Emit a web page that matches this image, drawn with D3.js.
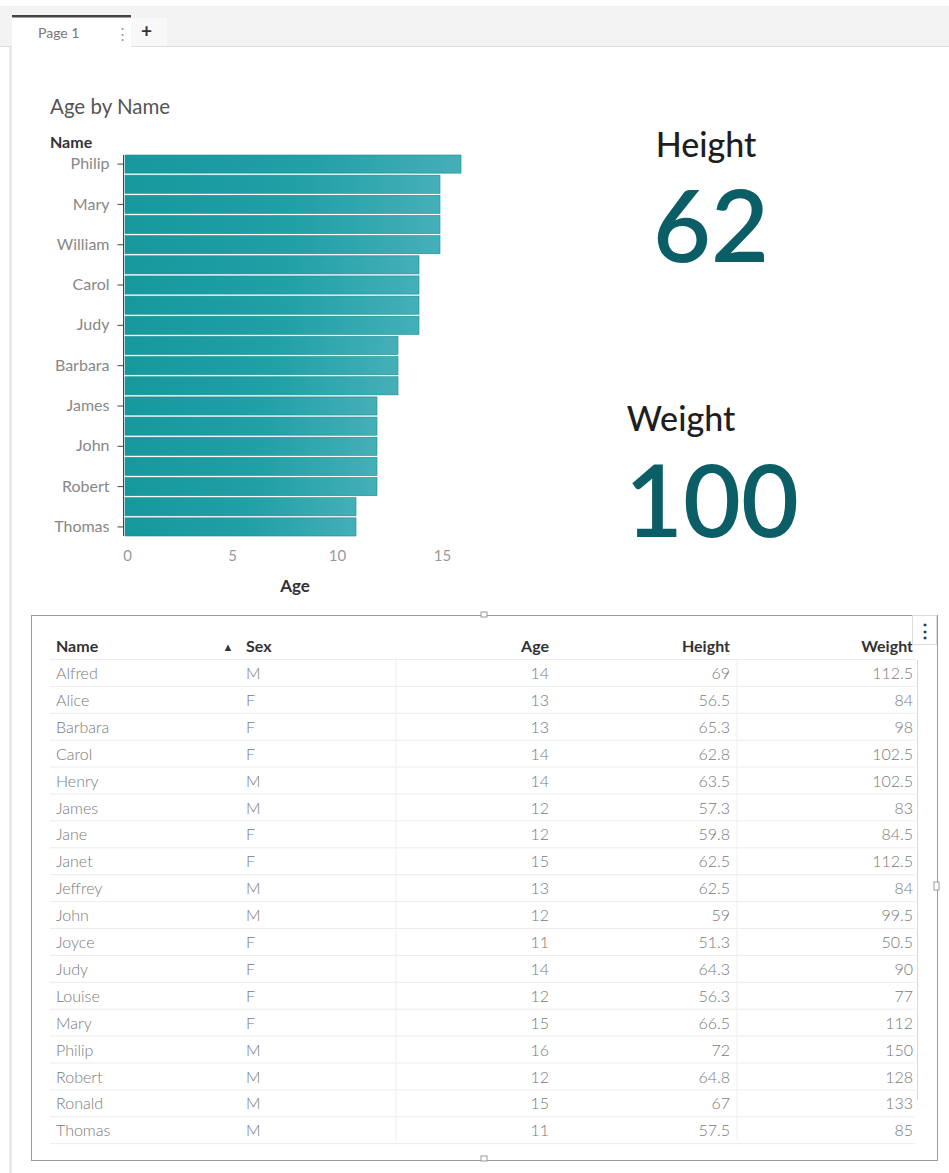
<!DOCTYPE html>
<html>
<head>
<meta charset="utf-8">
<script src="https://cdn.jsdelivr.net/npm/d3@7"></script>
<style>
  body { margin: 0; background: #fff; }
  svg text { font-family: Lato, "Open Sans", sans-serif; }
</style>
</head>
<body>
<div id="report"></div>
<script>
// sashelp.class
var names   = ["Alfred","Alice","Barbara","Carol","Henry","James","Jane","Janet","Jeffrey","John","Joyce","Judy","Louise","Mary","Philip","Robert","Ronald","Thomas","William"],
    sexes   = ["M","F","F","F","M","M","F","F","M","M","F","F","F","F","M","M","M","M","M"],
    ages    = [14,13,13,14,14,12,12,15,13,12,11,14,12,15,16,12,15,11,15],
    heights = [69,56.5,65.3,62.8,63.5,57.3,59.8,62.5,62.5,59,51.3,64.3,56.3,66.5,72,64.8,67,57.5,66.5],
    weights = [112.5,84,98,102.5,102.5,83,84.5,112.5,84,99.5,50.5,90,77,112,150,128,133,85,112];

var ageTicks = [0, 5, 10, 15],
    tableCols = ["Name", "Sex", "Age", "Height", "Weight"],
    visibleRows = 18;

var W = 949, H = 1173;

var rows = names.map(function(n, i) {
  return { name: n, sex: sexes[i], age: ages[i], height: heights[i], weight: weights[i] };
});

var svg = d3.select("#report").append("svg")
    .attr("width", W)
    .attr("height", H);

var defs = svg.append("defs");
var grad = defs.append("linearGradient").attr("id", "barGrad");
grad.append("stop").attr("offset", "0%").attr("stop-color", "#16989d");
grad.append("stop").attr("offset", "55%").attr("stop-color", "#21a0a6");
grad.append("stop").attr("offset", "100%").attr("stop-color", "#45afb7");

// ---- page tabs ----
svg.append("rect").attr("x", 0).attr("y", 6).attr("width", W).attr("height", 40).attr("fill", "#f3f3f3");
svg.append("line").attr("x1", 0).attr("x2", W).attr("y1", 46.5).attr("y2", 46.5).attr("stroke", "#dcdcdc");
svg.append("rect").attr("x", 12).attr("y", 16).attr("width", 119).attr("height", 31).attr("fill", "#fff");
svg.append("rect").attr("x", 131).attr("y", 18).attr("width", 36).attr("height", 28).attr("fill", "#f8f8f8");
svg.append("rect").attr("x", 12).attr("y", 15).attr("width", 119).attr("height", 2.5).attr("fill", "#444");
svg.append("text").attr("x", 38).attr("y", 38).attr("font-size", 14).attr("fill", "#777").text("Page 1");
svg.append("text").attr("x", 115).attr("y", 39).attr("font-size", 15).attr("fill", "#999").text("⋮");
svg.append("text").attr("x", 141).attr("y", 38).attr("font-size", 19).attr("font-weight", 700).attr("fill", "#333").text("+");
svg.append("line").attr("x1", 10.5).attr("x2", 10.5).attr("y1", 46).attr("y2", H).attr("stroke", "#e2e2e2").attr("stroke-width", 2);

// ---- bar chart ----
var sorted = rows.slice().sort(function(a, b) {
  return d3.descending(a.age, b.age) || d3.ascending(a.name, b.name);
});

var x = d3.scaleLinear().domain([0, 16]).range([125, 461]);
var y = d3.scaleBand()
    .domain(sorted.map(function(d) { return d.name; }))
    .range([155, 536])
    .paddingInner(0.1);

svg.append("text").attr("x", 50).attr("y", 114).attr("font-size", 20.5).attr("fill", "#555").text("Age by Name");
svg.append("text").attr("x", 50).attr("y", 148).attr("font-size", 16).attr("font-weight", 700).attr("fill", "#333").text("Name");

svg.selectAll(".bar")
  .data(sorted)
  .enter().append("rect")
    .attr("class", "bar")
    .attr("x", x(0))
    .attr("y", function(d) { return y(d.name); })
    .attr("width", function(d) { return x(d.age) - x(0); })
    .attr("height", y.bandwidth())
    .attr("fill", "url(#barGrad)")
    .attr("stroke", "#148e93")
    .attr("stroke-width", 0.6);

var labelled = sorted.filter(function(d, i) { return i % 2 === 0; }).map(function(d) { return d.name; });
var yAxis = d3.axisLeft(y).tickValues(labelled).tickSize(6).tickPadding(8);
var yg = svg.append("g")
    .attr("transform", "translate(" + (x(0) - 1.5) + ",0)")
    .call(yAxis);
yg.select(".domain").attr("stroke", "#444").attr("d", "M0," + y.range()[0] + "V" + y.range()[1]);
yg.selectAll(".tick line").attr("stroke", "#444");
yg.selectAll(".tick text").attr("font-size", 16).attr("fill", "#888").attr("font-family", "Lato, sans-serif");

var xAxis = d3.axisBottom(x).tickValues(ageTicks).tickSize(0).tickPadding(10);
var xg = svg.append("g")
    .attr("transform", "translate(2,540)")
    .call(xAxis);
xg.select(".domain").remove();
xg.selectAll(".tick text").attr("font-size", 15).attr("fill", "#999").attr("font-family", "Lato, sans-serif");

svg.append("text").attr("x", 295).attr("y", 592).attr("text-anchor", "middle")
  .attr("font-size", 17).attr("font-weight", 700).attr("fill", "#333").text("Age");

// ---- KPI tiles ----
var kpis = [
  { label: "Height", value: d3.mean(heights), lx: 706, ly: 157, vx: 711, vy: 262 },
  { label: "Weight", value: d3.mean(weights), lx: 681, ly: 431, vx: 712, vy: 537 }
];
kpis.forEach(function(k) {
  svg.append("text").attr("x", k.lx).attr("y", k.ly).attr("text-anchor", "middle")
    .attr("font-size", 34).attr("font-weight", 500).attr("fill", "#1e1e1e").text(k.label);
  svg.append("text").attr("x", k.vx).attr("y", k.vy).attr("text-anchor", "middle")
    .attr("font-size", 100).attr("font-weight", 600).attr("fill", "#0c5e66")
    .text(d3.format(".0f")(k.value));
});

// ---- table ----
var tx = 31, ty = 615, tw = 906, th = 545;
svg.append("rect").attr("x", tx + 0.5).attr("y", ty + 0.5).attr("width", tw).attr("height", th)
  .attr("fill", "#fff").attr("stroke", "#999");
svg.append("rect").attr("x", 481).attr("y", 612).attr("width", 6).attr("height", 5).attr("fill", "#fff").attr("stroke", "#999");
svg.append("rect").attr("x", 481).attr("y", 1156).attr("width", 6).attr("height", 5).attr("fill", "#fff").attr("stroke", "#999");
svg.append("rect").attr("x", 934).attr("y", 882).attr("width", 5).attr("height", 8).attr("fill", "#fff").attr("stroke", "#999");

var colX = { Name: 56, Sex: 246, Age: 549, Height: 730, Weight: 913 },
    colAnchor = { Name: "start", Sex: "start", Age: "end", Height: "end", Weight: "end" },
    colKey = { Name: "name", Sex: "sex", Age: "age", Height: "height", Weight: "weight" };

var rowY = d3.scaleLinear().domain([0, 1]).range([679, 705.9]);

var clip = defs.append("clipPath").attr("id", "tblClip");
clip.append("rect").attr("x", tx).attr("y", ty).attr("width", 886).attr("height", th);
var tbl = svg.append("g").attr("clip-path", "url(#tblClip)");

tbl.selectAll(".hdr")
  .data(tableCols)
  .enter().append("text")
    .attr("x", function(c) { return colX[c]; })
    .attr("y", 652)
    .attr("text-anchor", function(c) { return colAnchor[c]; })
    .attr("font-size", 16).attr("font-weight", 700).attr("fill", "#333")
    .text(function(c) { return c; });
svg.append("text").attr("x", 228).attr("y", 651).attr("text-anchor", "middle")
  .attr("font-size", 11).attr("fill", "#333").text("▲");

// menu button sits over the clipped header
svg.append("rect").attr("x", 912.5).attr("y", 615.5).attr("width", 24).attr("height", 29).attr("fill", "#fff").attr("stroke", "#ddd");
svg.append("text").attr("x", 925).attr("y", 637).attr("text-anchor", "middle").attr("font-size", 18)
  .attr("font-weight", 700).attr("fill", "#333").text("⋮");

// column dividers + scroll edge
[396, 737].forEach(function(cx) {
  svg.append("line").attr("x1", cx).attr("x2", cx).attr("y1", 660).attr("y2", 1140)
    .attr("stroke", "#efefef");
});
svg.append("line").attr("x1", 917.5).attr("x2", 917.5).attr("y1", 660).attr("y2", 1100).attr("stroke", "#d8d8d8");

var shown = rows.slice(0, visibleRows);
var rg = tbl.selectAll(".row")
  .data(shown)
  .enter().append("g")
    .attr("class", "row")
    .attr("transform", function(d, i) { return "translate(0," + rowY(i) + ")"; });

rg.append("line").attr("x1", 50).attr("x2", 915).attr("y1", -19.5).attr("y2", -19.5).attr("stroke", "#ececec");

tableCols.forEach(function(c) {
  rg.append("text")
    .attr("x", colX[c])
    .attr("text-anchor", colAnchor[c])
    .attr("font-size", 16).attr("font-weight", 300).attr("fill", "#7a7a7a")
    .text(function(d) { return d[colKey[c]]; });
});
tbl.append("line").attr("x1", 50).attr("x2", 915)
  .attr("y1", rowY(visibleRows) - 19.5).attr("y2", rowY(visibleRows) - 19.5).attr("stroke", "#ececec");
</script>
</body>
</html>
